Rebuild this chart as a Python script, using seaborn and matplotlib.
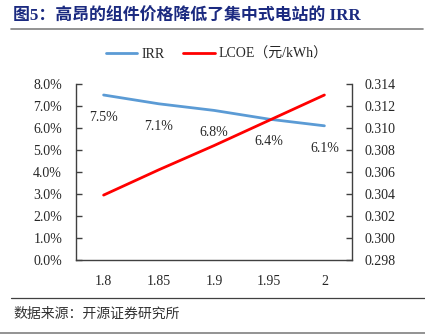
import matplotlib
matplotlib.use("Agg")
import matplotlib.pyplot as plt
from matplotlib.lines import Line2D
from matplotlib.ticker import FuncFormatter, MultipleLocator
import seaborn as sns
import pandas as pd

# Module price (元/W) categories and resulting metrics
price_labels = ["1.8", "1.85", "1.9", "1.95", "2"]
irr_values = [7.5, 7.1, 6.8, 6.4, 6.1]            # IRR, %
lcoe_values = [0.3039, 0.3062, 0.3084, 0.3107, 0.3130]  # LCOE, 元/kWh

df = pd.DataFrame({
    "pos": range(len(price_labels)),
    "price": price_labels,
    "irr": irr_values,
    "lcoe": lcoe_values,
})

sns.set_theme(style="white")
serif = ["Liberation Serif", "Noto Sans CJK SC"]
cjk = ["Noto Sans CJK SC", "DejaVu Sans"]
plt.rcParams["font.family"] = serif

blue = "#5B9BD5"
red = "#FF0000"
txt = "#262626"

fig = plt.figure(figsize=(4.25, 3.35), dpi=100)
ax = fig.add_axes([76 / 425, 1 - 260 / 335, (352 - 76) / 425, (260 - 84) / 335])
ax2 = ax.twinx()

sns.lineplot(data=df, x="pos", y="irr", ax=ax, color=blue, linewidth=2.0, label="IRR", legend=False)
sns.lineplot(data=df, x="pos", y="lcoe", ax=ax2, color=red, linewidth=2.0, label="LCOE（元/kWh）", legend=False)

ax.set_xlim(-0.5, len(price_labels) - 0.5)
ax.set_ylim(0, 8)
ax2.set_ylim(0.298, 0.314)
ax.set_xticks(df["pos"])
ax.set_xticklabels(price_labels)
ax.yaxis.set_major_locator(MultipleLocator(1))
ax.yaxis.set_major_formatter(FuncFormatter(lambda v, _: f"{v:.1f}%"))
ax2.yaxis.set_major_locator(MultipleLocator(0.002))
ax2.yaxis.set_major_formatter(FuncFormatter(lambda v, _: f"{v:.3f}"))

for a in (ax, ax2):
    a.set_xlabel("")
    a.set_ylabel("")
    for s in a.spines.values():
        s.set_visible(False)
ax.spines["left"].set_visible(True)
ax.spines["bottom"].set_visible(True)
ax2.spines["right"].set_visible(True)
for s in (ax.spines["left"], ax.spines["bottom"], ax2.spines["right"]):
    s.set_color("#404040")
    s.set_linewidth(1.0)

ax.tick_params(axis="y", direction="in", length=4, width=1, color="#404040",
               pad=10, labelsize=10, labelcolor=txt, left=True)
ax.tick_params(axis="x", length=0, pad=11, labelsize=10, labelcolor=txt)
ax2.tick_params(axis="y", direction="in", length=4, width=1, color="#404040",
                pad=9, labelsize=10, labelcolor=txt, right=True)

# value labels under the IRR points
for x, v in zip(df["pos"], irr_values):
    ax.annotate(f"{v:.1f}%", (x, v), xytext=(0, -16), textcoords="offset points",
                ha="center", va="center", fontsize=10, color=txt)

handles = [Line2D([], [], color=blue, lw=2.0), Line2D([], [], color=red, lw=2.0)]
fig.legend(handles, ["IRR", "LCOE（元/kWh）"], loc="center left",
           bbox_to_anchor=(93 / 425, 1 - 54 / 335), ncol=2, frameon=False,
           handlelength=2.3, handletextpad=0.3, columnspacing=1.3,
           prop={"family": serif, "size": 10})

fig.text(13 / 425, 1 - 17 / 335, "图5：高昂的组件价格降低了集中式电站的 IRR",
         fontsize=12.2, fontweight="bold", color="#1B2A80", va="center", ha="left",
         family=["Liberation Serif", "Noto Sans CJK SC"])
fig.add_artist(Line2D([11 / 425, 423 / 425], [1 - 29 / 335] * 2, color="#808080", lw=1.2))
fig.add_artist(Line2D([11 / 425, 1.0], [1 - 298 / 335] * 2, color="#404040", lw=0.9))
fig.add_artist(Line2D([0, 1.0], [1 - 333 / 335] * 2, color="#808080", lw=1.2))
fig.text(13 / 425, 1 - 314 / 335, "数据来源：开源证券研究所", fontsize=10,
         color="#333333", va="center", ha="left", family=cjk)

fig.savefig("out.png", dpi=100)
